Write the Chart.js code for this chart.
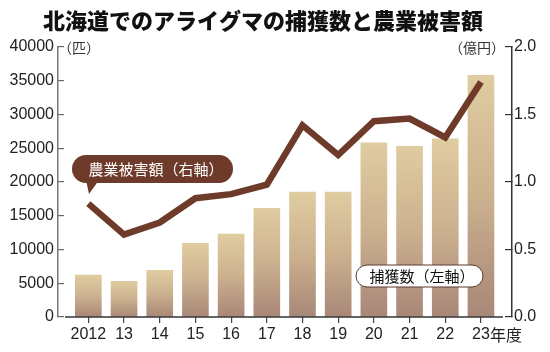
<!DOCTYPE html>
<html>
<head>
<meta charset="utf-8">
<script src="https://cdn.jsdelivr.net/npm/chart.js@4.4.1/dist/chart.umd.min.js"></script>
<style>
  html, body { margin: 0; padding: 0; background: #fff; }
  #wrap { width: 550px; height: 352px; }
</style>
</head>
<body>
<div id="wrap"><canvas id="chart" width="550" height="352"></canvas></div>
<script>
const years = ['2012', '13', '14', '15', '16', '17', '18', '19', '20', '21', '22', '23']
const captures = [6200, 5300, 6900, 10900, 12300, 16100, 18500, 18500, 25800, 25300, 26400, 35800]
const damage = [0.84, 0.61, 0.70, 0.88, 0.91, 0.98, 1.42, 1.20, 1.45, 1.47, 1.33, 1.74]
const leftTicks = [0, 5000, 10000, 15000, 20000, 25000, 30000, 35000, 40000]
const rightTicks = [0, 0.5, 1.0, 1.5, 2.0]

const NUM_FONT = '"Liberation Sans", "DejaVu Sans", sans-serif'
const JP_FONT = '"Noto Sans CJK JP", "Noto Sans", sans-serif'
const LINE_COLOR = '#6e3a29'

function barGradient(ctx) {
  const chart = ctx.chart
  if (!chart.chartArea || ctx.raw == null) return '#d4bc94'
  const yScale = chart.scales.y
  const top = yScale.getPixelForValue(ctx.raw.y)
  const bottom = yScale.getPixelForValue(0)
  const g = chart.ctx.createLinearGradient(0, top, 0, bottom)
  g.addColorStop(0, '#e0cca1')
  g.addColorStop(0.5, '#ccb18f')
  g.addColorStop(1, '#a88777')
  return g
}

function roundBox(c, x, y, w, h, r) {
  c.beginPath()
  c.moveTo(x + r, y)
  c.lineTo(x + w - r, y)
  c.arc(x + w - r, y + r, r, -Math.PI / 2, Math.PI / 2)
  c.lineTo(x + r, y + h)
  c.arc(x + r, y + r, r, Math.PI / 2, Math.PI * 1.5)
  c.closePath()
}

// title, unit labels, baseline and the two series labels
const decorations = {
  id: 'decorations',
  afterDatasetsDraw(chart) {
    const c = chart.ctx
    const area = chart.chartArea
    c.save()

    // baseline
    c.strokeStyle = '#333'
    c.lineWidth = 1.5
    c.beginPath()
    c.moveTo(area.left + 7, area.bottom)
    c.lineTo(area.right - 9, area.bottom)
    c.stroke()

    // title
    c.fillStyle = '#111'
    c.font = '900 22px ' + JP_FONT
    c.textAlign = 'center'
    c.textBaseline = 'middle'
    c.fillText('北海道でのアライグマの捕獲数と農業被害額', 263, 21)

    // units
    c.font = '14px ' + JP_FONT
    c.fillStyle = '#333'
    c.textAlign = 'left'
    c.fillText('（匹）', area.left, area.top + 1)
    c.textAlign = 'right'
    c.fillText('（億円）', area.right - 7, area.top + 1)

    // 年度 after the last year
    const xScale = chart.scales.x
    c.font = '16px ' + JP_FONT
    c.fillStyle = '#222'
    c.textAlign = 'left'
    c.fillText('年度', xScale.getPixelForValue(years.length - 1) + 9, area.bottom + 18)

    // 農業被害額 callout
    c.fillStyle = LINE_COLOR
    roundBox(c, 72, 155, 161, 28, 14)
    c.fill()
    c.beginPath()
    c.moveTo(86, 180)
    c.lineTo(89, 194)
    c.lineTo(99, 180)
    c.closePath()
    c.fill()
    c.fillStyle = '#fff'
    c.font = '15px ' + JP_FONT
    c.textAlign = 'center'
    c.fillText('農業被害額（右軸）', 156, 169)

    // 捕獲数 label
    roundBox(c, 356, 265, 127, 22, 11)
    c.fillStyle = '#fff'
    c.fill()
    c.strokeStyle = '#5a3a30'
    c.lineWidth = 1
    c.stroke()
    c.fillStyle = '#111'
    c.fillText('捕獲数（左軸）', 422, 276)

    c.restore()
  }
}

new Chart(document.getElementById('chart'), {
  data: {
    datasets: [
      {
        type: 'line',
        label: '農業被害額',
        data: damage.map((v, i) => ({ x: i, y: v })),
        yAxisID: 'y1',
        borderColor: LINE_COLOR,
        borderWidth: 6.5,
        borderCapStyle: 'butt',
        borderJoinStyle: 'miter',
        pointRadius: 0,
        tension: 0,
        order: 0
      },
      {
        type: 'bar',
        label: '捕獲数',
        data: captures.map((v, i) => ({ x: i, y: v })),
        yAxisID: 'y',
        backgroundColor: barGradient,
        barThickness: 26,
        borderWidth: 0,
        order: 1
      }
    ]
  },
  options: {
    responsive: false,
    animation: false,
    layout: { padding: { top: 47, left: 0, right: 0, bottom: 0 } },
    plugins: {
      legend: { display: false },
      tooltip: { enabled: false }
    },
    scales: {
      x: {
        type: 'linear',
        offset: false,
        min: -0.85,
        max: 11.87,
        afterBuildTicks: (scale) => { scale.ticks = years.map((_, i) => ({ value: i })) },
        afterFit: (scale) => { scale.height = 35 },
        ticks: {
          autoSkip: false,
          maxRotation: 0,
          padding: 2,
          color: '#222',
          font: { family: NUM_FONT, size: 16 },
          callback: (v) => years[v]
        },
        grid: { offset: false, drawOnChartArea: false, tickLength: 6, tickColor: '#444', lineWidth: 1.2 },
        border: { display: false }
      },
      y: {
        position: 'left',
        min: 0,
        max: 40000,
        afterBuildTicks: (scale) => { scale.ticks = leftTicks.map(v => ({ value: v })) },
        afterFit: (scale) => { scale.width = 58 },
        ticks: {
          padding: 10,
          color: '#222',
          font: { family: NUM_FONT, size: 16 },
          callback: (v) => String(v)
        },
        grid: { drawOnChartArea: false, tickLength: -6, tickColor: '#666', lineWidth: 1.2 },
        border: { color: '#777', width: 1.5 }
      },
      y1: {
        position: 'right',
        min: 0,
        max: 2,
        afterBuildTicks: (scale) => { scale.ticks = rightTicks.map(v => ({ value: v })) },
        afterFit: (scale) => { scale.width = 38 },
        ticks: {
          padding: 9,
          color: '#222',
          font: { family: NUM_FONT, size: 16 },
          callback: (v) => v.toFixed(1)
        },
        grid: { drawOnChartArea: false, tickLength: -7, tickColor: '#333', lineWidth: 1.2 },
        border: { color: '#333', width: 1.5 }
      }
    }
  },
  plugins: [decorations]
})
</script>
</body>
</html>
